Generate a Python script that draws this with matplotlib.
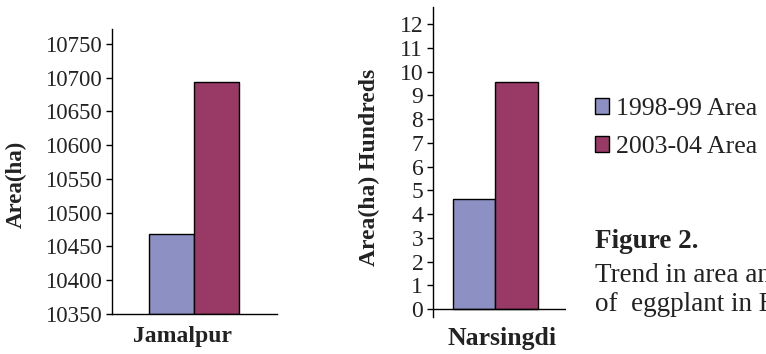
import matplotlib
matplotlib.use("Agg")
import matplotlib.pyplot as plt

plt.rcParams['font.family'] = ['Liberation Serif', 'DejaVu Serif']

# ---- data ----
series_names = ["1998-99 Area", "2003-04 Area"]
colors = ["#8C90C2", "#993A66"]
jamalpur_vals = [10468, 10694]          # Area (ha)
narsingdi_vals = [4.63, 9.56]           # Area (ha) hundreds
jamalpur_ticks = [10350, 10400, 10450, 10500, 10550, 10600, 10650, 10700, 10750]
narsingdi_ticks = list(range(0, 13))
district_labels = ["Jamalpur", "Narsingdi"]
caption_title = "Figure 2."
caption_lines = ["Trend in area and production", "of  eggplant in Bangladesh"]

W, H = 766, 354
fig = plt.figure(figsize=(W / 100, H / 100), dpi=100)

def fx(px):
    return px / W

def fy(py):
    return 1 - py / H

bw = 0.4
offsets = [-bw / 2, bw / 2]
TXT = "#222222"

# ---- left chart: Jamalpur ----
ax1 = fig.add_axes([fx(112), fy(314), fx(277) - fx(112), fy(29) - fy(314)])
bars = []
for i, v in enumerate(jamalpur_vals):
    b = ax1.bar(offsets[i], v - 10350, bottom=10350, width=bw, color=colors[i],
                edgecolor="black", linewidth=1.0, label=series_names[i])
    bars.append(b)
ax1.set_xlim(-0.729, 0.738)
ax1.set_ylim(10350, 10772)
ax1.set_yticks(jamalpur_ticks)
ax1.set_yticklabels([str(t) for t in jamalpur_ticks], fontsize=16.5, color=TXT)
ax1.set_xticks([])
for s in ["top", "right"]:
    ax1.spines[s].set_visible(False)
ax1.spines["left"].set_linewidth(1.0)
ax1.spines["bottom"].set_linewidth(1.0)
ax1.tick_params(axis="y", direction="out", length=4, width=1.0, pad=3)

# ---- right chart: Narsingdi ----
ax2 = fig.add_axes([fx(433), fy(317), fx(566) - fx(433), fy(7) - fy(317)])
for i, v in enumerate(narsingdi_vals):
    ax2.bar(offsets[i], v, width=bw, color=colors[i],
            edgecolor="black", linewidth=1.0)
ax2.set_xlim(-0.584, 0.668)
ax2.set_ylim(-0.337, 12.72)
ax2.set_yticks(narsingdi_ticks)
ax2.set_yticklabels([str(t) for t in narsingdi_ticks], fontsize=17, color=TXT)
ax2.set_xticks([])
for s in ["top", "right", "bottom"]:
    ax2.spines[s].set_visible(False)
ax2.spines["left"].set_linewidth(1.0)
ax2.axhline(0, color="black", linewidth=1.0, zorder=5)
ax2.tick_params(axis="y", direction="out", length=4, width=1.0, pad=3)

# ---- axis titles ----
fig.text(fx(16.5), fy(184), "Area(ha)", rotation=90, ha="center", va="center",
         fontsize=16.5, fontweight="bold", color=TXT)
fig.text(fx(369), fy(167), "Area(ha) Hundreds", rotation=90, ha="center", va="center",
         fontsize=17, fontweight="bold", color=TXT)
fig.text(fx(182.5), fy(342), district_labels[0], ha="center", va="baseline",
         fontsize=17, fontweight="bold", color=TXT)
fig.text(fx(502.5), fy(345), district_labels[1], ha="center", va="baseline",
         fontsize=18.5, fontweight="bold", color=TXT)

# ---- legend ----
fig.legend(handles=[b[0] for b in bars], labels=series_names,
           loc="upper left", bbox_to_anchor=(fx(595), fy(98)),
           frameon=False, fontsize=18.5, handlelength=0.55, handleheight=0.55,
           handletextpad=0.28, labelspacing=0.62, borderpad=0, borderaxespad=0,
           labelcolor=TXT)

# ---- caption ----
fig.text(fx(595), fy(248), caption_title, ha="left", va="baseline",
         fontsize=19.5, fontweight="bold", color=TXT)
fig.text(fx(595), fy(282), caption_lines[0], ha="left", va="baseline",
         fontsize=19.5, color=TXT)
fig.text(fx(595), fy(311), caption_lines[1], ha="left", va="baseline",
         fontsize=19.5, color=TXT)

fig.savefig("out.png", dpi=100)
